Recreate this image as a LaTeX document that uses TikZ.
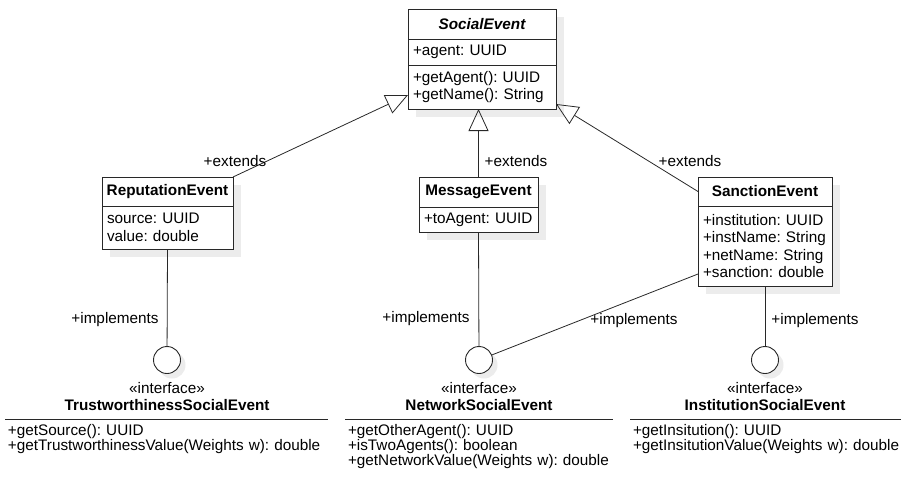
\documentclass[tikz,border=0pt]{standalone}
\usepackage{fontspec}
\setmainfont{Liberation Sans}
\usepackage{tikz}
\usetikzlibrary{calc,arrows.meta,positioning,backgrounds}
\definecolor{umlline}{RGB}{40,40,40}
\definecolor{umlshadow}{RGB}{236,236,236}
\newcommand{\umlfont}{\fontsize{15.3}{17.5}\selectfont}
\newcommand{\umlopsfont}{\fontsize{15.3}{15.2}\selectfont}
\frenchspacing

\tikzset{
  classtitle/.style={draw=umlline, fill=white, line width=0.9pt, font=\umlfont\bfseries, inner sep=0pt, outer sep=0pt, anchor=north west},
  classpart/.style={draw=umlline, fill=white, line width=0.9pt, font=\umlfont, align=left, inner xsep=5pt, inner ysep=0pt, outer sep=0pt},
  lollipop/.style={circle, draw=umlline, fill=white, line width=0.9pt, minimum size=27pt, inner sep=0pt},
  ifacename/.style={font=\umlfont, align=center, inner sep=0pt},
  ifaceops/.style={font=\umlopsfont, align=left, inner xsep=3pt, inner ysep=5pt, outer sep=0pt, anchor=north west},
  rel/.style={umlline, line width=0.8pt},
  extends/.style={rel, -{Triangle[open, length=22pt, width=20pt]}},
  rellabel/.style={font=\umlfont, inner sep=0pt},
}

\begin{document}
\begin{tikzpicture}[x=1pt,y=-1pt]
\useasboundingbox (0,0) rectangle (901,477);

% classes
\node[classtitle, minimum width=148pt, minimum height=30pt] (se) at (408,9) {\itshape SocialEvent};
\node[classpart, text width=138pt, minimum height=26pt, below=0pt of se] (se-attr) {+agent: UUID};
\node[classpart, text width=138pt, minimum height=44pt, below=0pt of se-attr] (se-ops) {+getAgent(): UUID\\+getName(): String};

\node[classtitle, minimum width=131pt, minimum height=29pt] (rep) at (102,177) {ReputationEvent};
\node[classpart, text width=121pt, minimum height=43pt, below=0pt of rep] (rep-attr) {source: UUID\\value: double};

\node[classtitle, minimum width=119pt, minimum height=30pt] (msg) at (419,177) {MessageEvent};
\node[classpart, text width=109pt, minimum height=25pt, below=0pt of msg] (msg-attr) {+toAgent: UUID};

\node[classtitle, minimum width=134pt, minimum height=29pt] (san) at (698,177) {SanctionEvent};
\node[classpart, text width=124pt, minimum height=80pt, below=0pt of san] (san-attr) {+institution: UUID\\+instName: String\\+netName: String\\+sanction: double};

% interfaces
\node[lollipop] (trust) at (167,360) {};
\node[ifacename, below=8pt of trust] (trust-name) {«interface»\\\textbf{TrustworthinessSocialEvent}};
\node[ifaceops, text width=317pt] (trust-ops) at (5,419) {+getSource(): UUID\\+getTrustworthinessValue(Weights w): double};

\node[lollipop] (net) at (479,360) {};
\node[ifacename, below=8pt of net] (net-name) {«interface»\\\textbf{NetworkSocialEvent}};
\node[ifaceops, text width=262pt] (net-ops) at (345,419) {+getOtherAgent(): UUID\\+isTwoAgents(): boolean\\+getNetworkValue(Weights w): double};

\node[lollipop] (inst) at (765,360) {};
\node[ifacename, below=8pt of inst] (inst-name) {«interface»\\\textbf{InstitutionSocialEvent}};
\node[ifaceops, text width=268pt] (inst-ops) at (630,419) {+getInsitution(): UUID\\+getInsitutionValue(Weights w): double};

\foreach \i in {trust-ops,net-ops,inst-ops}
  \draw[rel] (\i.north west) -- (\i.north east);

% shadows
\begin{scope}[on background layer]
\fill[umlshadow] ($(se.north west)+(8,8)$) rectangle ($(se-ops.south east)+(8,8)$);
\fill[umlshadow] ($(rep.north west)+(8,8)$) rectangle ($(rep-attr.south east)+(8,8)$);
\fill[umlshadow] ($(msg.north west)+(8,8)$) rectangle ($(msg-attr.south east)+(8,8)$);
\fill[umlshadow] ($(san.north west)+(8,8)$) rectangle ($(san-attr.south east)+(8,8)$);
\foreach \i in {trust,net,inst}
  \fill[umlshadow] ($(\i.center)+(5,5)$) circle (13.5pt);
\end{scope}

% generalizations
\draw[extends] (rep.north east) -- ($(se-ops.south west)+(0,-14)$);
\draw[extends] (msg.north) -- (msg.north |- se-ops.south);
\draw[extends] (san.west) -- ($(se-ops.south east)+(0,-5)$);
\node[rellabel] (ext-rep) at (235,161) {+extends};
\node[rellabel] (ext-msg) at (516,161) {+extends};
\node[rellabel] (ext-san) at (690,161) {+extends};

% realizations
\draw[rel] (rep-attr.south) -- (trust);
\draw[rel] (msg-attr.south) -- (net);
\draw[rel] ($(san-attr.south west)+(0,-12)$) -- (net);
\draw[rel] (san-attr.south) -- (inst);
\node[rellabel] (impl-rep) at (115,320) {+implements};
\node[rellabel] (impl-msg) at (426,319) {+implements};
\node[rellabel] (impl-san) at (634,321) {+implements};
\node[rellabel] (impl-inst) at (815,321) {+implements};
\end{tikzpicture}
\end{document}
